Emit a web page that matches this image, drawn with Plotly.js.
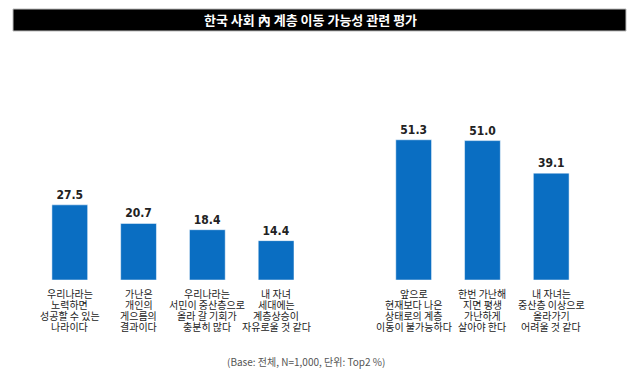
<!DOCTYPE html>
<html><head><meta charset="utf-8">
<script src="https://cdn.plot.ly/plotly-3.0.1.min.js"></script>
<style>html,body{margin:0;padding:0;background:#fff;}#chart{width:640px;height:386px;}</style>
</head><body><div id="chart"></div>
<script>
const positions = [0, 1, 2, 3, 5, 6, 7];
const values = [27.5, 20.7, 18.4, 14.4, 51.3, 51.0, 39.1];
const valueLabels = ["27.5", "20.7", "18.4", "14.4", "51.3", "51.0", "39.1"];
const categories = [
  ["우리나라는", "노력하면", "성공할 수 있는", "나라이다"],
  ["가난은", "개인의", "게으름의", "결과이다"],
  ["우리나라는", "서민이 중산층으로", "올라 갈 기회가", "충분히 많다"],
  ["내 자녀", "세대에는", "계층상승이", "자유로울 것 같다"],
  ["앞으로", "현재보다 나은", "상태로의 계층", "이동이 불가능하다"],
  ["한번 가난해", "지면 평생", "가난하게", "살아야 한다"],
  ["내 자녀는", "중산층 이상으로", "올라가기", "어려울 것 같다"]
];
const titleText = "한국 사회 內 계층 이동 가능성 관련 평가";
const footText = "(Base: 전체, N=1,000, 단위: Top2 %)";

const KR = '"Noto Sans CJK KR", "Noto Sans", sans-serif';
const H = 164; // plot height px
const py = p => (280 - p) / H;

const trace = {
  type: 'bar', x: positions, y: values, width: 0.52,
  marker: {color: '#0a6ec2', line: {color: '#ffffff', width: 0.5}},
  text: valueLabels.map(v => '<b>' + v + '</b>'), textposition: 'outside',
  textfont: {family: '"DejaVu Sans Condensed", "Liberation Sans", sans-serif', size: 12, color: '#222'},
  cliponaxis: false, hoverinfo: 'none'
};

const annotations = [];
categories.forEach((lines, i) => {
  lines.forEach((ln, j) => {
    annotations.push({
      x: positions[i], y: 0, xref: 'x', yref: 'y', xanchor: 'center', yanchor: 'middle',
      yshift: -(13 + j * 11),
      text: ln, showarrow: false, align: 'center',
      font: {family: KR, size: 10, color: '#222'}
    });
  });
});
annotations.push({
  x: 320/640, xref: 'paper', y: py(20), yref: 'paper', xanchor: 'center', yanchor: 'middle',
  text: '<b>' + titleText + '</b>', showarrow: false,
  font: {family: KR, size: 13, color: '#ffffff'}
});
annotations.push({
  x: 315/640, xref: 'paper', y: py(361), yref: 'paper', xanchor: 'center', yanchor: 'middle',
  text: footText, showarrow: false,
  font: {family: KR, size: 10, color: '#555'}
});

const layout = {
  width: 640, height: 386,
  margin: {l: 1, r: 20, t: 116, b: 106, pad: 0},
  paper_bgcolor: '#ffffff', plot_bgcolor: '#ffffff',
  showlegend: false,
  xaxis: {range: [-1, 8], showgrid: false, zeroline: false, showticklabels: false, showline: false, fixedrange: true},
  yaxis: {range: [0, 60], showgrid: false, zeroline: false, showticklabels: false, showline: false, fixedrange: true},
  shapes: [{
    type: 'rect', xref: 'paper', yref: 'paper',
    x0: 12/619, x1: 625/619, y0: py(31), y1: py(9),
    fillcolor: '#000000', line: {color: '#bbbbbb', width: 1}
  }],
  annotations: annotations
};
Plotly.newPlot('chart', [trace], layout, {displayModeBar: false, staticPlot: true});
</script></body></html>
